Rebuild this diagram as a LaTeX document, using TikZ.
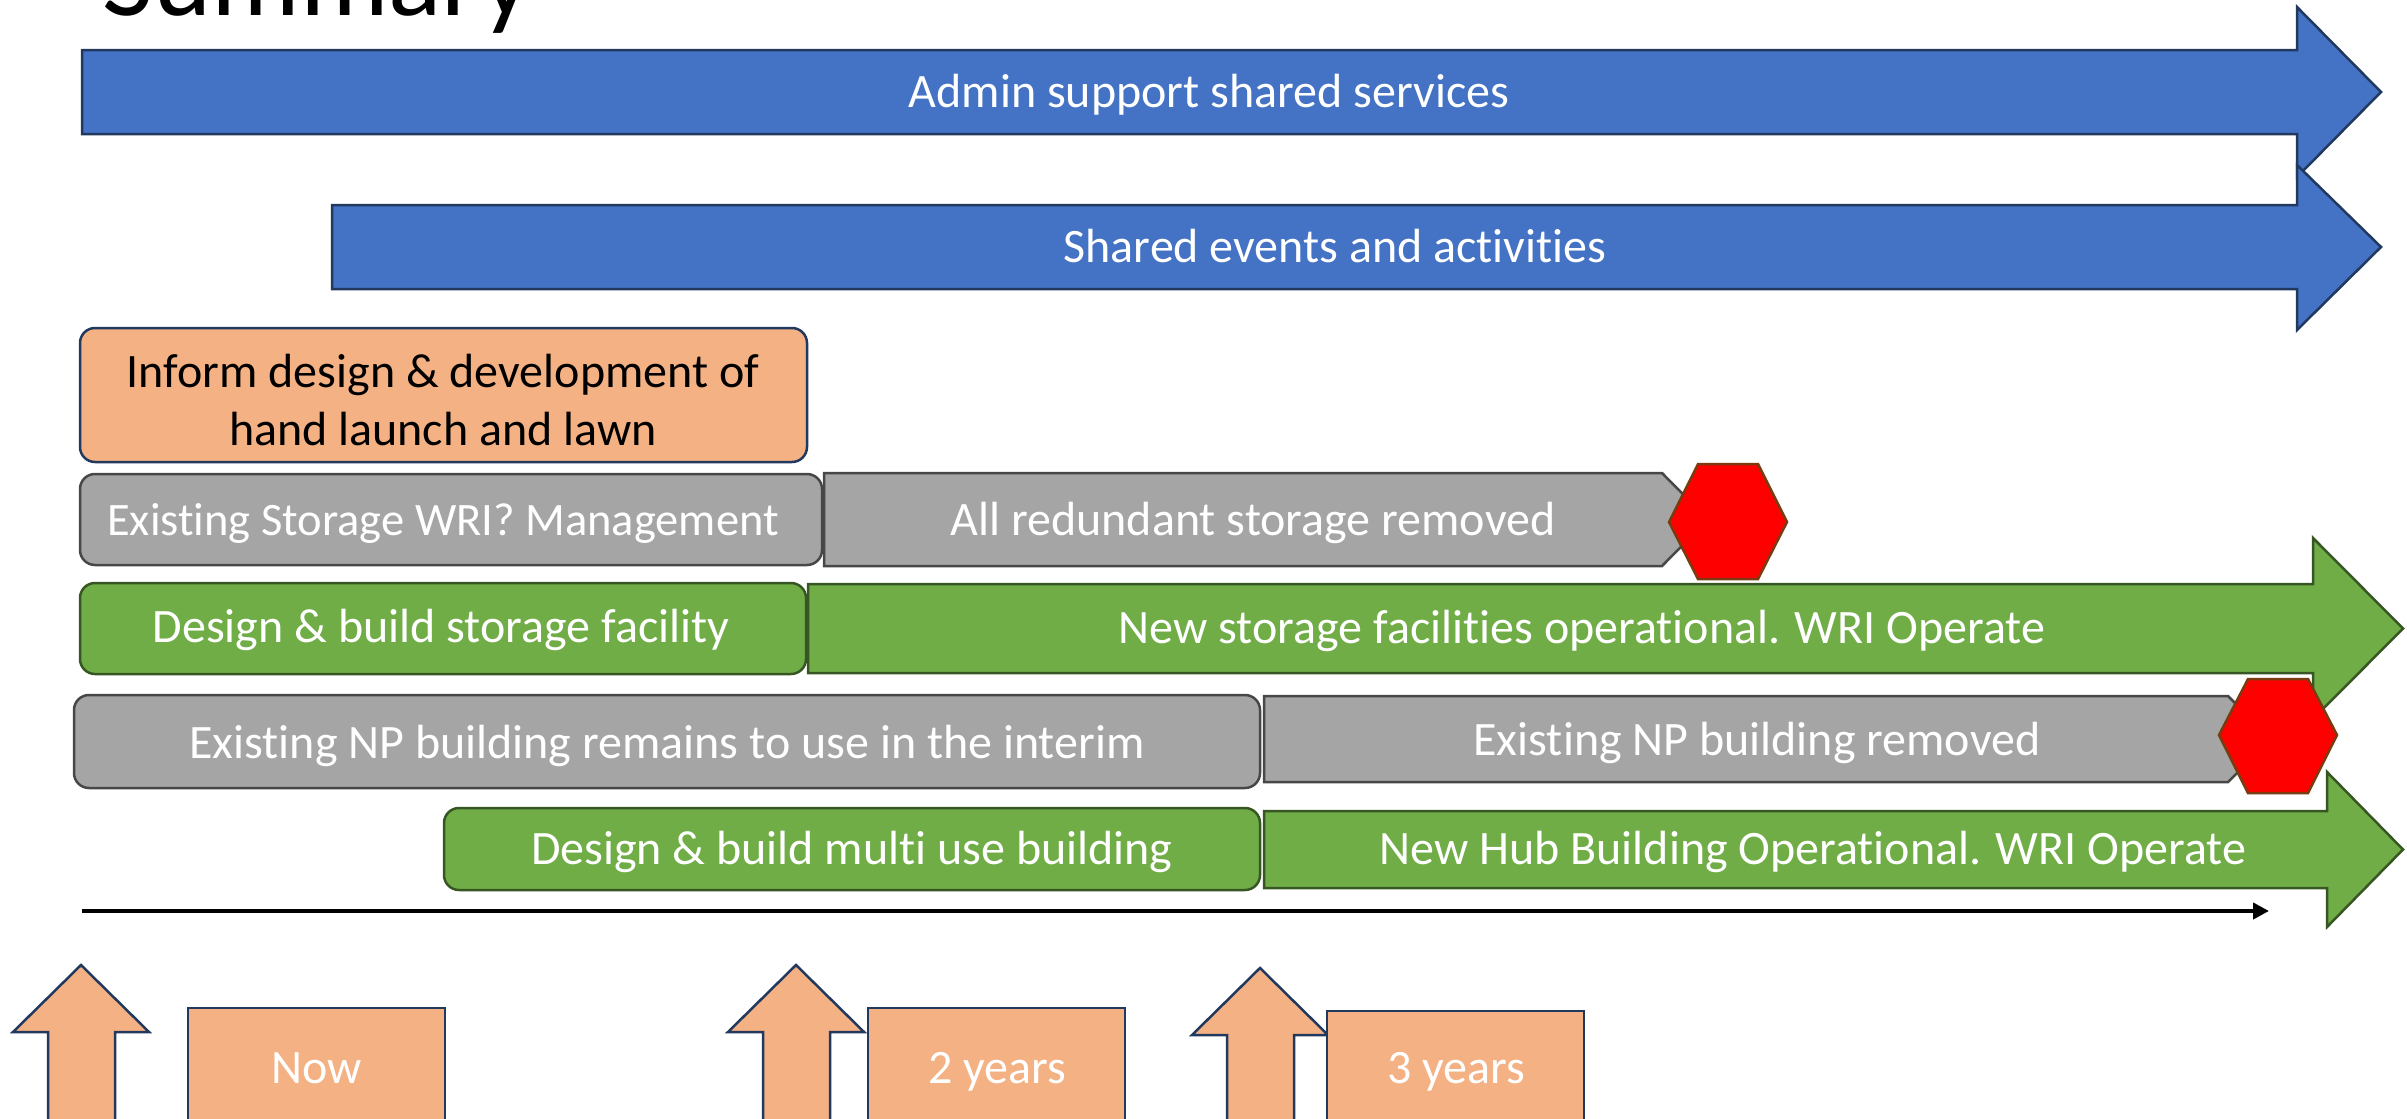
\documentclass[tikz,border=0pt]{standalone}
\usepackage{fontspec}
\setmainfont{Carlito}[Ligatures=NoCommon]
\usetikzlibrary{arrows.meta}

\definecolor{barblue}{HTML}{4472C4}
\definecolor{lineblue}{HTML}{22395F}
\definecolor{barorange}{HTML}{F4B183}
\definecolor{bargrey}{HTML}{A5A5A5}
\definecolor{linegrey}{HTML}{474747}
\definecolor{bargreen}{HTML}{70AD47}
\definecolor{linegreen}{HTML}{375623}
\definecolor{stopred}{HTML}{FF0000}
\definecolor{linered}{HTML}{7B3A10}

\tikzset{
  blueshape/.style={fill=barblue, draw=lineblue, line width=2.5pt},
  orangeshape/.style={fill=barorange, draw=lineblue, line width=2.5pt},
  greyshape/.style={fill=bargrey, draw=linegrey, line width=2.5pt},
  greenshape/.style={fill=bargreen, draw=linegreen, line width=2.5pt},
  stopshape/.style={fill=stopred, draw=linered, line width=2.5pt},
  bartext/.style={anchor=base, inner sep=0pt, text=white, font=\fontsize{48}{58}\selectfont},
}

\begin{document}
\begin{tikzpicture}[x=1pt, y=-1pt, line join=miter]
    \useasboundingbox (0,0) rectangle (2407,1119);
    \clip (0,0) rectangle (2407,1119);

    % Title, cut at the top
    \node[anchor=base west, inner sep=0pt, font=\fontsize{111}{133}\selectfont] (title) at (102,15) {Summary};

    % Draw blue arrows
    \draw[blueshape] (82,50) -- (2297,50) -- (2297,7) -- (2381,92) -- (2297,177) -- (2297,134) -- (82,134) -- cycle;
    \draw[blueshape] (332,205) -- (2297,205) -- (2297,165) -- (2381,247) -- (2297,330) -- (2297,289) -- (332,289) -- cycle;
    \node[bartext] (admin) at (1209,107) {Admin support shared services};
    \node[bartext] (events) at (1335,262) {Shared events and activities};

    % Rounded boxes
    \draw[orangeshape, rounded corners=15pt] (80,328) rectangle (807,462);
    \node[bartext, text=black, align=center] (inform) at (443,445) {Inform design \& development of\\hand launch and lawn};
    \draw[greyshape, rounded corners=15pt] (80,474) rectangle (822,565);
    \node[bartext, font=\fontsize{46.5}{56}\selectfont] (storemgmt) at (443,535) {Existing Storage WRI? Management};
    \draw[greenshape, rounded corners=15pt] (80,583) rectangle (806,674);
    \node[bartext] (storedesign) at (441,642) {Design \& build storage facility};
    \draw[greyshape, rounded corners=15pt] (74,695) rectangle (1260,788);
    \node[bartext] (npinterim) at (667,758) {Existing NP building remains to use in the interim};
    \draw[greenshape, rounded corners=15pt] (444,808) rectangle (1260,890);
    \node[bartext] (hubdesign) at (852,864) {Design \& build multi use building};

    % Grey pentagons and stop signs
    \draw[greyshape] (824,473) -- (1662,473) -- (1708,519.5) -- (1662,566) -- (824,566) -- cycle;
    \node[bartext] (storeremoved) at (1253,535) {All redundant storage removed};
    \draw[stopshape] (1669,522) -- (1698,464) -- (1758,464) -- (1787,522) -- (1758,579) -- (1698,579) -- cycle;

    % Draw green arrows
    \draw[greenshape] (808,584) -- (2313,584) -- (2313,538) -- (2403,628.5) -- (2313,719) -- (2313,673) -- (808,673) -- cycle;
    \node[bartext] (storenew) at (1582,643) {New storage facilities operational. WRI Operate};

    \draw[greyshape] (1264,696) -- (2228,696) -- (2271,739) -- (2228,782) -- (1264,782) -- cycle;
    \node[bartext] (npremoved) at (1757,755) {Existing NP building removed};
    \draw[stopshape] (2219,735) -- (2248,679) -- (2308,679) -- (2337,735) -- (2308,793) -- (2248,793) -- cycle;

    \draw[greenshape] (1264,811) -- (2327,811) -- (2327,772) -- (2403,849.5) -- (2327,927) -- (2327,888) -- (1264,888) -- cycle;
    \node[bartext] (hubnew) at (1813,864) {New Hub Building Operational. WRI Operate};

    % Time axis
    \coordinate (tstart) at (82,911);
    \coordinate (tend) at (2269,911);
    \draw[line width=4pt, -{Triangle[length=16pt, width=16pt]}] (tstart) -- (tend);

    % Markers below the axis
    \foreach \x/\y in {81/965, 796/965, 1260/968} {
      \draw[orangeshape] (\x,\y) -- (\x+68,\y+67) -- (\x+34,\y+67) -- (\x+34,1130) -- (\x-33,1130) -- (\x-33,\y+67) -- (\x-68,\y+67) -- cycle;
    }
    \foreach \n/\x/\y/\t in {now/188/1008/Now, two/868/1008/2 years, three/1327/1011/3 years} {
      \draw[orangeshape] (\x,\y) rectangle (\x+257,1130);
      \node[bartext] (\n) at (\x+129,1083) {\t};
    }

\end{tikzpicture}
\end{document}
